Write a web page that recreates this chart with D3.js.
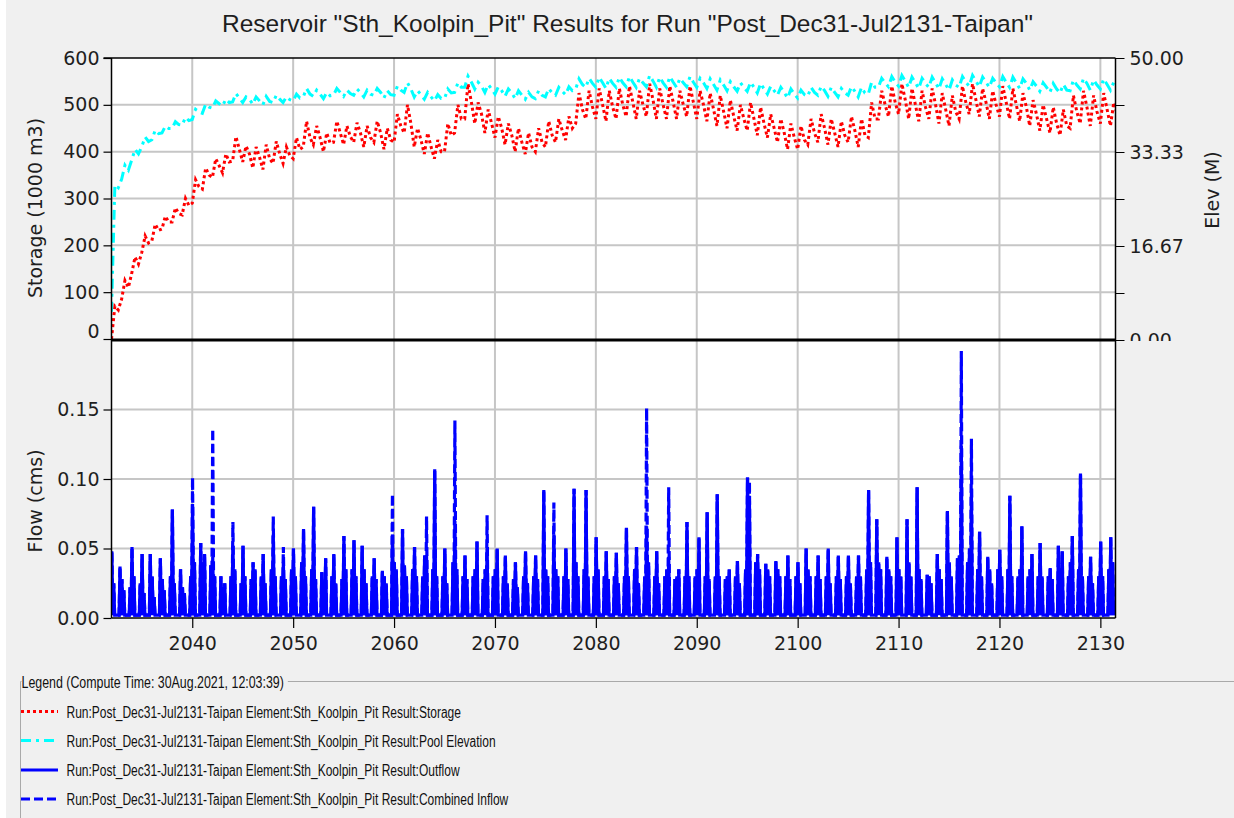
<!DOCTYPE html>
<html><head><meta charset="utf-8">
<script src="https://cdn.jsdelivr.net/npm/d3@7"></script>
<style>
html,body{margin:0;padding:0;background:#f0f0f0;}
svg{display:block;}
</style></head><body>
<svg id="chart" width="1234" height="818"></svg>
<script>
// ---------------- data ----------------
const titleText = 'Reservoir "Sth_Koolpin_Pit" Results for Run "Post_Dec31-Jul2131-Taipan"';
const storageLabel = "Storage (1000 m3)";
const elevLabel = "Elev (M)";
const flowLabel = "Flow (cms)";
const firstYear = 2032;            // first wet season in the run
const startTime = 2031.997;        // 31 Dec 2031
const endTime = 2131.5;            // Jul 2131
const yearTicks = [2040, 2050, 2060, 2070, 2080, 2090, 2100, 2110, 2120, 2130];
const storageTicks = [0, 100, 200, 300, 400, 500, 600];
const elevTicks = [0, 8.333, 16.667, 25, 33.333, 41.667, 50];
const elevTickLabels = ["0.00", "", "16.67", "", "33.33", "", "50.00"];
const flowTicks = [0, 0.05, 0.10, 0.15];

// Storage (1000 m3): three readings per year (Jan, May, Sep), 2032..2131
const storage = [
  0,70,62, 85,125,110, 140,175,160, 185,220,205, 210,245,232,
  235,262,250, 250,280,268, 265,300,285, 290,340,325, 320,365,350,
  345,385,370, 355,395,378, 380,432,405, 378,412,395, 365,410,388,
  362,415,385, 375,422,395, 375,410,392, 385,430,405, 410,465,430,
  415,455,430, 400,440,418, 420,465,440, 415,455,432, 420,462,440,
  410,455,430, 420,465,440, 405,450,425, 420,480,455, 440,500,460,
  410,450,425, 395,440,410, 385,425,400, 400,460,435, 440,500,470,
  470,545,505, 460,505,480, 440,490,460, 430,475,450, 415,460,435,
  400,450,420, 395,440,410, 400,450,420, 410,465,435, 420,470,445,
  425,475,450, 460,525,490, 470,530,495, 470,535,500, 465,530,495,
  470,535,500, 475,540,505, 470,530,500, 475,545,510, 470,535,500,
  470,540,505, 470,530,500, 475,540,505, 470,530,500, 465,525,490,
  455,520,485, 450,510,475, 445,500,470, 445,505,470, 435,495,460,
  430,480,450, 420,470,440, 405,460,430, 405,455,425, 415,470,440,
  420,480,450, 415,470,440, 410,465,435, 420,475,445, 410,470,435,
  430,505,470, 470,530,500, 475,540,505, 480,545,510, 470,535,500,
  465,530,495, 470,535,500, 460,525,490, 455,520,485, 470,540,505,
  480,545,510, 475,535,505, 470,530,500, 475,540,505, 470,535,500,
  465,525,495, 455,510,480, 445,500,470, 440,495,460, 435,490,455,
  450,520,485, 460,530,495, 455,520,485, 460,525,490, 455,505,480
];

// Pool elevation (M): three readings per year, same dates as storage
const elevation = [
  5,27.5,27, 28.5,31,30.1, 31.9,33.8,33, 34.3,36,35.2, 35.5,37.2,36.6,
  36.7,37.9,37.5, 37.5,38.7,38.2, 38.1,39.5,38.9, 39.1,40.9,40.4, 40.2,41.8,41.3,
  41.1,42.4,41.9, 41.5,42.7,42.1, 42.2,43.7,42.9, 42.1,43.1,42.7, 41.8,43.1,42.4,
  41.7,43.2,42.3, 42.1,43.4,42.7, 42.1,43.1,42.6, 42.4,43.6,42.9, 43.1,44.6,43.6,
  43.2,44.3,43.6, 42.8,43.9,43.3, 43.4,44.6,43.9, 43.2,44.3,43.7, 43.4,44.5,43.9,
  43.1,44.3,43.6, 43.4,44.6,43.9, 42.9,44.2,43.5, 43.4,45.0,44.3, 43.9,45.6,44.5,
  43.1,44.2,43.5, 42.7,43.9,43.1, 42.4,43.5,42.8, 42.8,44.5,43.8, 43.9,45.6,44.8,
  44.8,46.8,45.7, 44.5,45.7,45.0, 43.9,45.3,44.5, 43.6,44.9,44.2, 43.2,44.5,43.8,
  42.8,44.2,43.4, 42.7,43.9,43.1, 42.8,44.2,43.4, 43.1,44.6,43.8, 43.4,44.8,44.1,
  43.5,44.9,44.2, 44.5,46.3,45.3, 44.8,46.4,45.5, 44.8,46.6,45.6, 44.6,46.4,45.5,
  44.8,46.6,45.6, 44.9,46.7,45.7, 44.8,46.4,45.6, 44.9,46.9,45.9, 44.8,46.6,45.6,
  44.8,46.7,45.7, 44.8,46.4,45.6, 44.9,46.7,45.7, 44.8,46.4,45.6, 44.6,46.3,45.3,
  44.3,46.1,45.2, 44.2,45.8,44.9, 44.1,45.6,44.8, 44.1,45.7,44.8, 43.8,45.5,44.5,
  43.6,45.0,44.2, 43.4,44.8,43.9, 42.9,44.5,43.6, 42.9,44.3,43.5, 43.2,44.8,43.9,
  43.4,45.0,44.2, 43.2,44.8,43.9, 43.1,44.6,43.8, 43.4,44.9,44.1, 43.1,44.8,43.8,
  43.6,45.7,44.8, 44.8,46.4,45.6, 44.9,46.7,45.7, 45.0,46.9,45.9, 44.8,46.6,45.6,
  44.6,46.4,45.5, 44.8,46.6,45.6, 44.5,46.3,45.3, 44.3,46.1,45.2, 44.8,46.7,45.7,
  45.0,46.9,45.9, 44.9,46.6,45.7, 44.8,46.4,45.6, 44.9,46.7,45.7, 44.8,46.6,45.6,
  44.6,46.3,45.5, 44.3,45.8,45.0, 44.1,45.6,44.8, 43.9,45.5,44.5, 43.8,45.3,44.3,
  44.2,46.1,45.2, 44.5,46.4,45.5, 44.3,46.1,45.2, 44.5,46.3,45.3, 44.3,45.7,45.0
];

// Outflow (cms): three wet-season peaks per year (Dec, Feb, Mar), 2032..2131
const outflow = [
  .030,.048,.025, .037,.028,.020, .022,.051,.030, .025,.046,.018, .046,.030,.015,
  .043,.028,.020, .030,.078,.025, .035,.022,.018, .030,.082,.040, .054,.040,.046,
  .038,.044,.030, .030,.022,.025, .030,.052,.035, .025,.052,.030, .028,.040,.035,
  .030,.046,.025, .035,.059,.030, .030,.040,.028, .035,.050,.030, .040,.064,.030,
  .035,.080,.028, .033,.025,.043, .030,.046,.025, .028,.059,.035, .035,.056,.030,
  .052,.035,.025, .030,.043,.028, .034,.030,.025, .060,.040,.035, .064,.038,.030,
  .035,.051,.030, .030,.045,.045, .035,.107,.030, .030,.050,.025, .040,.070,.035,
  .030,.045,.028, .030,.035,.055, .028,.035,.050, .030,.035,.050, .030,.045,.025,
  .028,.040,.022, .030,.048,.025, .030,.045,.028, .092,.035,.030, .060,.035,.030,
  .030,.050,.028, .093,.040,.030, .035,.092,.030, .030,.058,.035, .030,.048,.028,
  .030,.047,.025, .030,.065,.030, .035,.051,.025, .030,.066,.040, .030,.048,.025,
  .030,.035,.044, .028,.030,.035, .030,.069,.030, .030,.035,.058, .030,.076,.028,
  .030,.089,.030, .028,.030,.035, .030,.041,.025, .035,.101,.085, .040,.046,.035,
  .039,.035,.030, .041,.035,.030, .030,.045,.028, .030,.040,.025, .050,.035,.030,
  .030,.045,.028, .030,.050,.025, .030,.045,.028, .030,.045,.025, .030,.045,.030,
  .035,.092,.040, .071,.040,.035, .044,.035,.030, .058,.035,.030, .071,.040,.030,
  .094,.035,.028, .031,.030,.025, .046,.035,.028, .077,.040,.030, .043,.045,.124,
  .040,.050,.091, .035,.062,.030, .044,.035,.025, .035,.049,.030, .035,.088,.030,
  .030,.035,.066, .030,.035,.046, .030,.054,.030, .030,.036,.028, .052,.035,.048,
  .030,.040,.059, .035,.104,.030, .030,.044,.025, .030,.055,.030, .035,.058,.040
];

// Combined inflow (cms): same events as outflow
const inflow = [
  .030,.048,.025, .037,.028,.020, .022,.051,.030, .025,.046,.018, .046,.030,.015,
  .043,.028,.020, .030,.078,.025, .035,.022,.018, .030,.101,.040, .054,.040,.046,
  .038,.136,.030, .030,.022,.025, .030,.069,.035, .025,.052,.030, .028,.040,.035,
  .030,.046,.025, .035,.073,.030, .030,.051,.028, .035,.050,.030, .040,.064,.030,
  .035,.080,.028, .033,.025,.043, .030,.046,.025, .028,.059,.035, .035,.056,.030,
  .052,.035,.025, .030,.043,.028, .034,.030,.025, .089,.040,.035, .064,.038,.030,
  .035,.051,.030, .030,.045,.073, .035,.107,.030, .030,.050,.025, .040,.142,.035,
  .030,.045,.028, .030,.035,.055, .028,.035,.074, .030,.035,.050, .030,.045,.025,
  .028,.040,.022, .030,.048,.025, .030,.045,.028, .092,.035,.030, .083,.035,.030,
  .030,.050,.028, .093,.040,.030, .035,.092,.030, .030,.058,.035, .030,.048,.028,
  .030,.047,.025, .030,.065,.030, .035,.051,.025, .030,.151,.040, .030,.048,.025,
  .030,.035,.094, .028,.030,.035, .030,.069,.030, .030,.035,.058, .030,.076,.028,
  .030,.089,.030, .028,.030,.035, .030,.041,.025, .035,.101,.098, .040,.046,.035,
  .039,.035,.030, .041,.035,.030, .030,.045,.028, .030,.040,.025, .050,.035,.030,
  .030,.045,.028, .030,.050,.025, .030,.045,.028, .030,.045,.025, .030,.045,.030,
  .035,.092,.040, .071,.040,.035, .044,.035,.030, .058,.035,.030, .071,.040,.030,
  .094,.035,.028, .031,.030,.025, .046,.035,.028, .077,.040,.030, .043,.045,.192,
  .040,.050,.129, .035,.062,.030, .044,.035,.025, .035,.049,.030, .035,.088,.030,
  .030,.035,.066, .030,.035,.046, .030,.054,.030, .030,.036,.028, .052,.035,.048,
  .030,.040,.059, .035,.104,.030, .030,.044,.025, .030,.055,.030, .035,.058,.040
];
const dryFlow = 0.002; // baseflow between events

const legendTitle = "Legend (Compute Time: 30Aug.2021, 12:03:39)";
const legendLabels = [
  "Run:Post_Dec31-Jul2131-Taipan Element:Sth_Koolpin_Pit Result:Storage",
  "Run:Post_Dec31-Jul2131-Taipan Element:Sth_Koolpin_Pit Result:Pool Elevation",
  "Run:Post_Dec31-Jul2131-Taipan Element:Sth_Koolpin_Pit Result:Outflow",
  "Run:Post_Dec31-Jul2131-Taipan Element:Sth_Koolpin_Pit Result:Combined Inflow"
];

// ---------------- layout / style ----------------
const W = 1234, H = 818;
const L = 111.5, R = 1115.5, T = 58, M = 340, B = 618;
const tickFont = "'DejaVu Sans', Verdana, sans-serif";
const gridColor = "#c6c6c6";
const storageOffsets = [0.0, 0.33, 0.67];
const peakOffsets = [-0.16, 0.03, 0.22];
const troughOffsets = [-0.25, -0.07, 0.13, 0.31];
const styles = [
  {color:"#ff0000", dash:"3 3"},
  {color:"#00ffff", dash:"10 5 3 5"},
  {color:"#0000ff", dash:null},
  {color:"#0000ff", dash:"9 4"}
];

const svg = d3.select("#chart");
svg.append("rect").attr("width", W).attr("height", H).attr("fill", "#f0f0f0");
svg.append("rect").attr("width", 6).attr("height", H).attr("fill", "#ffffff");

const x = d3.scaleLinear().domain([startTime, endTime]).range([L, R]);
const yS = d3.scaleLinear().domain([0, 600]).range([M - 1, T]);
const yE = d3.scaleLinear().domain([0, 50]).range([M, T]);
const yF = d3.scaleLinear().domain([0, 0.2]).range([B, M]);

const defs = svg.append("defs");
defs.append("clipPath").attr("id", "clipTop").append("rect")
  .attr("x", L).attr("y", T).attr("width", R - L).attr("height", M - T);
defs.append("clipPath").attr("id", "clipBot").append("rect")
  .attr("x", L).attr("y", M).attr("width", R - L).attr("height", B - M);
defs.append("clipPath").attr("id", "clipRightAxis").append("rect")
  .attr("x", -2).attr("y", 0).attr("width", W - R + 2).attr("height", M + 1);

// plot background
svg.append("rect").attr("x", L).attr("y", T).attr("width", R - L).attr("height", B - T).attr("fill", "#fff");

// grid
const grid = svg.append("g").attr("stroke", gridColor).attr("stroke-width", 2);
grid.selectAll(".vg").data(yearTicks).join("line").attr("class","vg")
  .attr("x1", d => x(d)).attr("x2", d => x(d)).attr("y1", T).attr("y2", B);
grid.selectAll(".hs").data(storageTicks.filter(d => d > 0 && d < 600)).join("line").attr("class","hs")
  .attr("x1", L).attr("x2", R).attr("y1", d => yS(d)).attr("y2", d => yS(d));
grid.selectAll(".hf").data(flowTicks.filter(d => d > 0)).join("line").attr("class","hf")
  .attr("x1", L).attr("x2", R).attr("y1", d => yF(d)).attr("y2", d => yF(d));

// series points
const storagePts = storage.map((v, i) => [i === 0 ? startTime : firstYear + Math.floor(i / 3) + storageOffsets[i % 3], v]);
const elevPts = elevation.map((v, i) => [i === 0 ? startTime : firstYear + Math.floor(i / 3) + storageOffsets[i % 3], v]);
function flowPts(arr) {
  const pts = [];
  for (let k = 0; k < arr.length / 3; k++) {
    const yr = firstYear + k;
    pts.push([yr + troughOffsets[0], dryFlow]);
    for (let j = 0; j < 3; j++) {
      pts.push([yr + peakOffsets[j], arr[k * 3 + j]]);
      pts.push([yr + troughOffsets[j + 1], dryFlow]);
    }
  }
  return pts;
}

const gTop = svg.append("g").attr("clip-path", "url(#clipTop)");
const gBot = svg.append("g").attr("clip-path", "url(#clipBot)");

gBot.append("path").datum(flowPts(outflow))
  .attr("d", d3.line().x(d => x(d[0])).y(d => yF(d[1])))
  .attr("fill", "none").attr("stroke", styles[2].color).attr("stroke-width", 3.2).attr("stroke-linejoin", "miter");
gBot.append("path").datum(flowPts(inflow))
  .attr("d", d3.line().x(d => x(d[0])).y(d => yF(d[1])))
  .attr("fill", "none").attr("stroke", styles[3].color).attr("stroke-width", 3.2).attr("stroke-dasharray", styles[3].dash);

gTop.append("path").datum(storagePts)
  .attr("d", d3.line().x(d => x(d[0])).y(d => yS(d[1])))
  .attr("fill", "none").attr("stroke", styles[0].color).attr("stroke-width", 3).attr("stroke-dasharray", styles[0].dash);
gTop.append("path").datum(elevPts)
  .attr("d", d3.line().x(d => x(d[0])).y(d => yE(d[1])))
  .attr("fill", "none").attr("stroke", styles[1].color).attr("stroke-width", 3).attr("stroke-dasharray", styles[1].dash);

// axes
function styleAxis(g) {
  g.select(".domain").remove();
  g.selectAll(".tick line").attr("stroke", "#000").attr("stroke-width", 1.2);
  g.selectAll(".tick text").attr("font-family", tickFont).attr("font-size", 19).attr("fill", "#1e1e1e");
}
const axL = svg.append("g").attr("transform", `translate(${L},0)`)
  .call(d3.axisLeft(yS).tickValues(storageTicks).tickSize(8).tickPadding(4).tickFormat(d3.format("d")));
styleAxis(axL);
axL.selectAll(".tick text").filter(d => d === 0).attr("dy", "-0.1em");

const axR = svg.append("g").attr("transform", `translate(${R},0)`).attr("clip-path", "url(#clipRightAxis)")
  .call(d3.axisRight(yE).tickValues(elevTicks).tickSize(9).tickPadding(5).tickFormat((d, i) => elevTickLabels[i]));
styleAxis(axR);

const axF = svg.append("g").attr("transform", `translate(${L},0)`)
  .call(d3.axisLeft(yF).tickValues(flowTicks).tickSize(8).tickPadding(4).tickFormat(d3.format(".2f")));
styleAxis(axF);

const axB = svg.append("g").attr("transform", `translate(0,${B})`)
  .call(d3.axisBottom(x).tickValues(yearTicks).tickSize(10).tickPadding(9).tickFormat(d3.format("d")));
styleAxis(axB);

// frame
const frame = svg.append("g").attr("stroke", "#000").attr("fill", "none");
frame.append("line").attr("x1", L - 8).attr("x2", R).attr("y1", T).attr("y2", T).attr("stroke-width", 1.5);
frame.append("line").attr("x1", L).attr("x2", L).attr("y1", T).attr("y2", B).attr("stroke-width", 1.5);
frame.append("line").attr("x1", R).attr("x2", R).attr("y1", T).attr("y2", B).attr("stroke-width", 1.5);
frame.append("line").attr("x1", L).attr("x2", R).attr("y1", B).attr("y2", B).attr("stroke-width", 1.5);
frame.append("line").attr("x1", L).attr("x2", R).attr("y1", M).attr("y2", M).attr("stroke-width", 3);

// axis titles
svg.append("text").attr("transform", `translate(42,${(T + M) / 2 + 9}) rotate(-90)`)
  .attr("text-anchor", "middle").attr("font-family", tickFont).attr("font-size", 19).attr("fill", "#1e1e1e").text(storageLabel);
svg.append("text").attr("transform", `translate(42,${(M + B) / 2 + 22}) rotate(-90)`)
  .attr("text-anchor", "middle").attr("font-family", tickFont).attr("font-size", 19).attr("fill", "#1e1e1e").text(flowLabel);
svg.append("text").attr("transform", `translate(1219,${(T + M) / 2 - 9}) rotate(-90)`)
  .attr("text-anchor", "middle").attr("font-family", tickFont).attr("font-size", 19).attr("fill", "#1e1e1e").text(elevLabel);

// title
svg.append("text").attr("x", 627.5).attr("y", 32).attr("text-anchor", "middle")
  .attr("font-family", "'Liberation Sans', Arial, sans-serif").attr("font-size", 24.5).attr("fill", "#1e1e1e").text(titleText);

// legend
const legFont = "'Liberation Sans', Arial, sans-serif";
const legScale = 0.75;
const leg = svg.append("g");
const lt = leg.append("text").attr("transform", `translate(21.5,688) scale(0.775,1)`)
  .attr("font-family", legFont).attr("font-size", 16).attr("fill", "#111").text(legendTitle);
const ltw = lt.node().getComputedTextLength() * 0.775;
leg.append("path").attr("d", `M20.5,818 V681.5 H21.5 M${21.5 + ltw + 4},681.5 H${W}`)
  .attr("fill", "none").attr("stroke", "#a9a9a9").attr("stroke-width", 1);
const entryY = [711.5, 740.5, 770, 799];
legendLabels.forEach((lab, i) => {
  leg.append("line").attr("x1", 21).attr("x2", 58).attr("y1", entryY[i]).attr("y2", entryY[i])
    .attr("stroke", styles[i].color).attr("stroke-width", 3).attr("stroke-dasharray", styles[i].dash);
  leg.append("text").attr("transform", `translate(66.5,${entryY[i] + 6}) scale(${legScale},1)`)
    .attr("font-family", legFont).attr("font-size", 16).attr("fill", "#111").text(lab);
});
</script>
</body></html>
